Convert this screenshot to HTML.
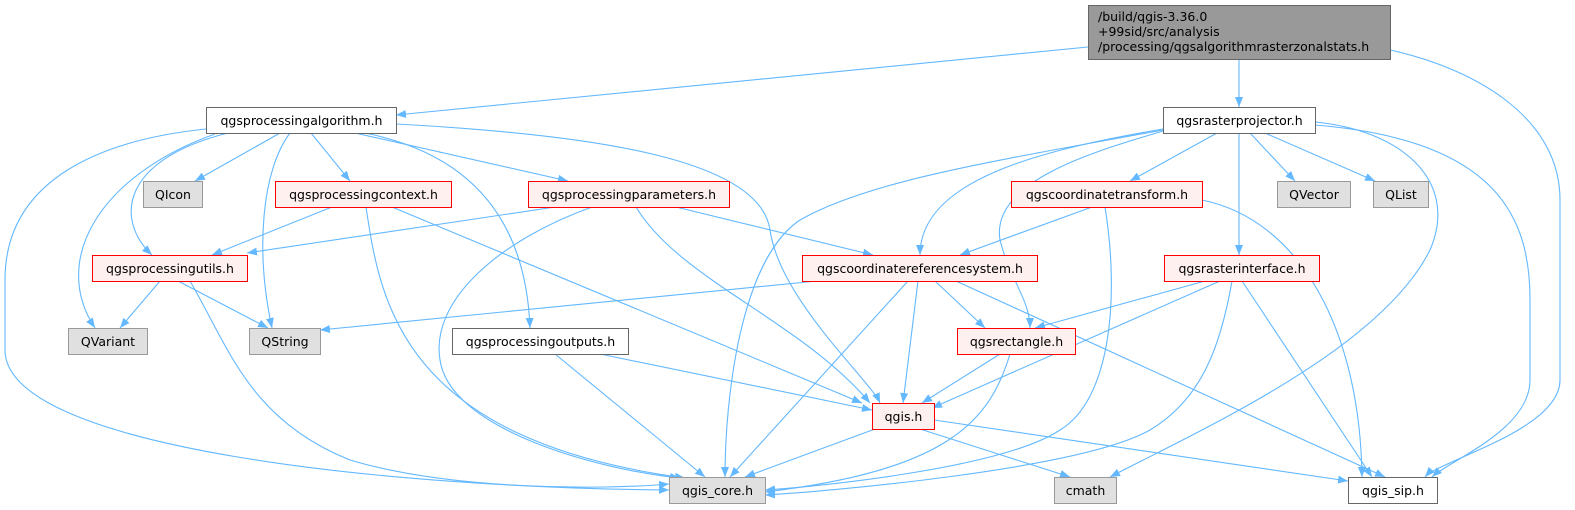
<!DOCTYPE html>
<html><head><meta charset="utf-8"><style>
html,body{margin:0;padding:0;background:#fff}
svg text{font-family:"DejaVu Sans","Liberation Sans",sans-serif;font-size:12.5px;fill:#000}
</style></head><body>
<svg width="1575" height="505" viewBox="0 0 1575 505" xmlns="http://www.w3.org/2000/svg">
<defs>
<marker id="a" viewBox="0 0 10 8" refX="10" refY="4" markerWidth="10" markerHeight="8" markerUnits="userSpaceOnUse" orient="auto">
<path d="M0,0 L10,4 L0,8 z" fill="#63b8ff"/></marker>
</defs>
<g fill="none" stroke="#63b8ff" stroke-width="1.1" marker-end="url(#a)">
<!-- root -->
<path d="M1088,47 L396,115"/>
<path d="M1239,60 L1239,107"/>
<path d="M1390,50 C1480,70 1560,120 1560,200 L1560,380 C1560,430 1440,460 1425,477"/>
<!-- algorithm -->
<path d="M280,133 L195,181"/>
<path d="M311,133 L350,181"/>
<path d="M355,133 L568,181"/>
<path d="M228,133 C120,160 115,220 152,255"/>
<path d="M215,134 C100,175 50,260 95,328"/>
<path d="M290,133 C262,170 255,250 272,328"/>
<path d="M206,129 C100,140 5,180 5,280 L5,350 C5,450 400,488 669,490"/>
<path d="M365,133 C450,150 525,200 530,328"/>
<path d="M396,124 C600,135 760,160 770,230 C780,300 870,380 880,403"/>
<!-- context -->
<path d="M332,207 L212,255"/>
<path d="M366,207 C380,300 400,440 685,478"/>
<path d="M392,207 L862,403"/>
<!-- parameters -->
<path d="M555,207 L247,253"/>
<path d="M592,207 C500,240 430,300 440,360 C450,430 600,470 680,478"/>
<path d="M636,207 C680,280 800,320 870,403"/>
<path d="M676,207 L873,255"/>
<!-- CRS -->
<path d="M817,281 L320,330"/>
<path d="M908,281 L730,477"/>
<path d="M918,281 L903,403"/>
<path d="M935,281 L985,328"/>
<path d="M956,281 L1385,477"/>
<!-- projector -->
<path d="M1163,129 C1040,150 920,180 920,255"/>
<path d="M1163,130 C1000,160 870,180 800,220 C740,260 725,400 725,477"/>
<path d="M1163,131 C1100,150 990,180 1000,240 C1010,280 1030,300 1030,328"/>
<path d="M1217,133 L1130,181"/>
<path d="M1239,133 L1239,255"/>
<path d="M1250,133 L1295,181"/>
<path d="M1265,133 L1375,181"/>
<path d="M1315,122 C1400,130 1460,180 1430,250 C1380,350 1200,430 1110,477"/>
<path d="M1315,125 C1500,140 1530,220 1530,300 L1530,380 C1530,430 1450,460 1432,477"/>
<!-- coordtransform -->
<path d="M1092,207 L960,255"/>
<path d="M1105,207 C1120,300 1110,400 1060,430 C1000,470 800,488 765,490"/>
<path d="M1202,200 C1300,220 1360,330 1362,477"/>
<!-- rasterinterface -->
<path d="M1205,281 L1035,328"/>
<path d="M1220,281 L932,408"/>
<path d="M1232,281 C1220,350 1200,400 1150,430 C1080,470 820,492 765,495"/>
<path d="M1242,281 L1372,477"/>
<!-- utils -->
<path d="M160,281 L120,328"/>
<path d="M178,281 L268,328"/>
<path d="M190,281 C230,350 250,420 350,460 C450,490 600,490 669,484"/>
<!-- outputs -->
<path d="M555,354 L705,477"/>
<path d="M600,354 L872,410"/>
<!-- rectangle -->
<path d="M1000,354 L922,403"/>
<path d="M1010,354 C990,420 950,470 765,492"/>
<!-- qgis.h -->
<path d="M875,429 L745,477"/>
<path d="M920,429 L1070,477"/>
<path d="M934,420 L1348,481"/>
</g>
<!-- nodes -->
<g stroke-width="1">
<rect x="1088.5" y="5.5" width="302" height="54" fill="#999" stroke="#666"/>
<rect x="206.5" y="107.5" width="190" height="26" fill="#fff" stroke="#666"/>
<rect x="1163.5" y="107.5" width="152" height="26" fill="#fff" stroke="#666"/>
<rect x="143.5" y="181.5" width="59" height="26" fill="#e0e0e0" stroke="#999"/>
<rect x="275.5" y="181.5" width="176" height="26" fill="#fff0f0" stroke="#f00"/>
<rect x="528.5" y="181.5" width="201" height="26" fill="#fff0f0" stroke="#f00"/>
<rect x="1011.5" y="181.5" width="191" height="26" fill="#fff0f0" stroke="#f00"/>
<rect x="1277.5" y="181.5" width="73" height="26" fill="#e0e0e0" stroke="#999"/>
<rect x="1373.5" y="181.5" width="55" height="26" fill="#e0e0e0" stroke="#999"/>
<rect x="92.5" y="255.5" width="155" height="26" fill="#fff0f0" stroke="#f00"/>
<rect x="802.5" y="255.5" width="235" height="26" fill="#fff0f0" stroke="#f00"/>
<rect x="1164.5" y="255.5" width="155" height="26" fill="#fff0f0" stroke="#f00"/>
<rect x="68.5" y="328.5" width="79" height="26" fill="#e0e0e0" stroke="#999"/>
<rect x="249.5" y="328.5" width="71" height="26" fill="#e0e0e0" stroke="#999"/>
<rect x="452.5" y="328.5" width="176" height="26" fill="#fff" stroke="#666"/>
<rect x="957.5" y="328.5" width="118" height="26" fill="#fff0f0" stroke="#f00"/>
<rect x="872.5" y="403.5" width="62" height="26" fill="#fff0f0" stroke="#f00"/>
<rect x="669.5" y="477.5" width="96" height="26" fill="#e0e0e0" stroke="#999"/>
<rect x="1054.5" y="477.5" width="62" height="26" fill="#e0e0e0" stroke="#999"/>
<rect x="1348.5" y="477.5" width="89" height="26" fill="#fff" stroke="#666"/>
</g>
<g>
<text x="1098" y="21">/build/qgis-3.36.0</text>
<text x="1098" y="36">+99sid/src/analysis</text>
<text x="1098" y="51">/processing/qgsalgorithmrasterzonalstats.h</text>
</g>
<g text-anchor="middle">
<text x="301.5" y="125">qgsprocessingalgorithm.h</text>
<text x="1239.5" y="125">qgsrasterprojector.h</text>
<text x="173" y="199">QIcon</text>
<text x="363.5" y="199">qgsprocessingcontext.h</text>
<text x="629" y="199">qgsprocessingparameters.h</text>
<text x="1107" y="199">qgscoordinatetransform.h</text>
<text x="1314" y="199">QVector</text>
<text x="1401" y="199">QList</text>
<text x="170" y="273">qgsprocessingutils.h</text>
<text x="920" y="273">qgscoordinatereferencesystem.h</text>
<text x="1242" y="273">qgsrasterinterface.h</text>
<text x="108" y="346">QVariant</text>
<text x="285" y="346">QString</text>
<text x="540.5" y="346">qgsprocessingoutputs.h</text>
<text x="1016.5" y="346">qgsrectangle.h</text>
<text x="903.5" y="421">qgis.h</text>
<text x="717.5" y="495">qgis_core.h</text>
<text x="1085.5" y="495">cmath</text>
<text x="1393" y="495">qgis_sip.h</text>
</g>
</svg>
</body></html>
